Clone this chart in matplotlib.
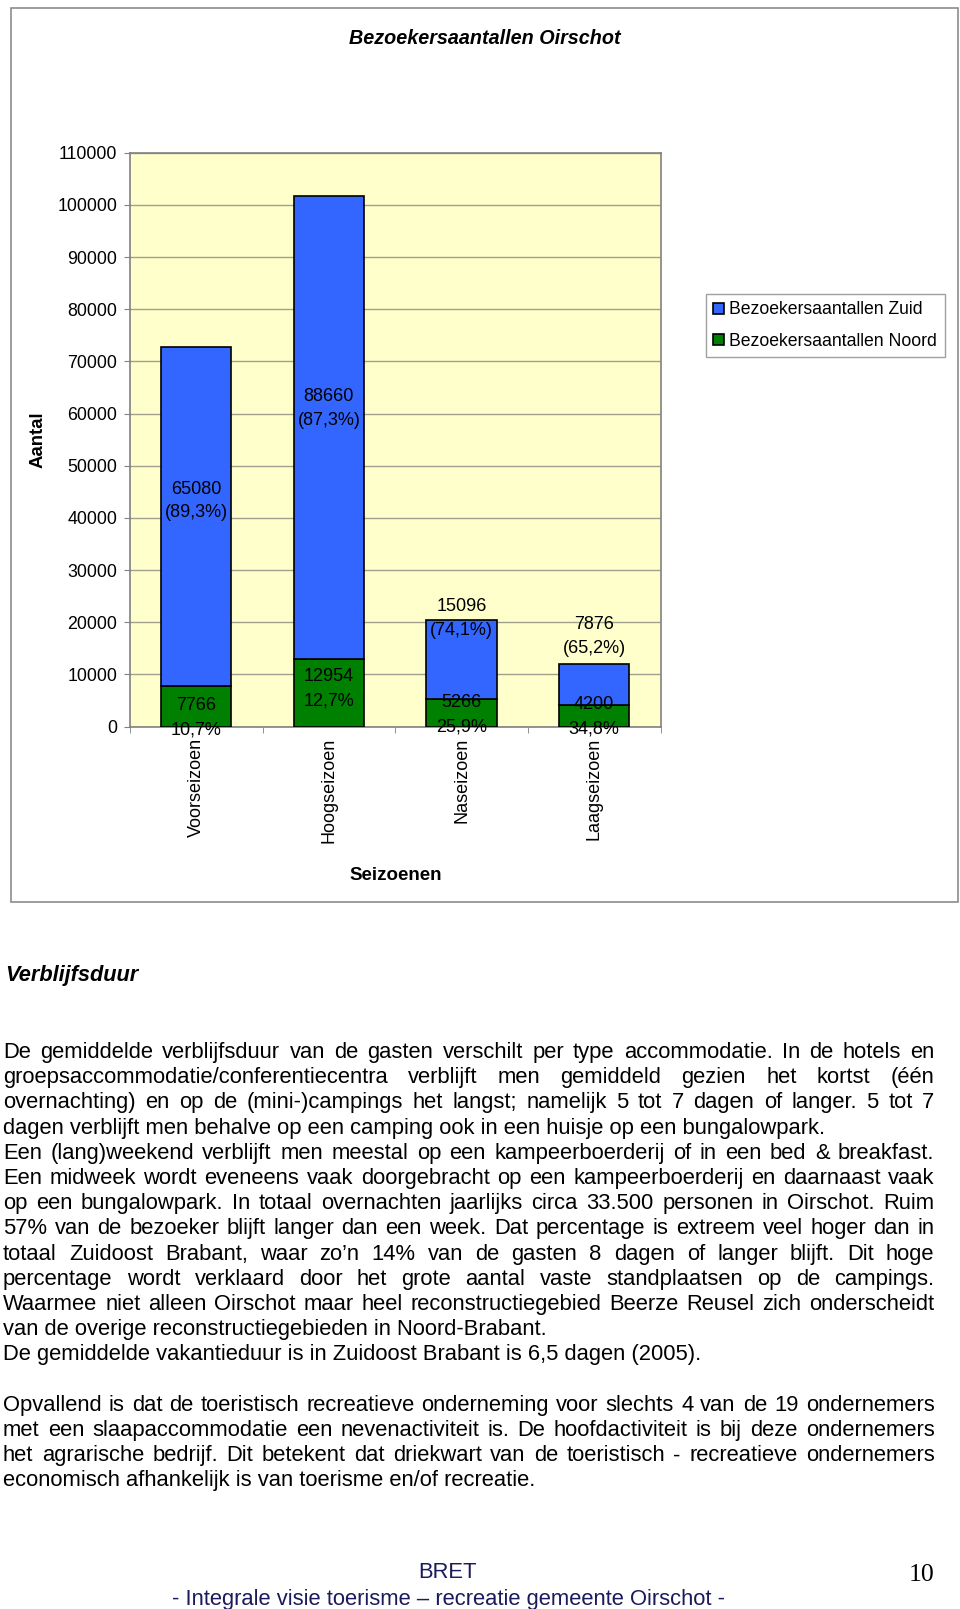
import numpy as np
import matplotlib
matplotlib.use("Agg")
import matplotlib.pyplot as plt
from matplotlib.patches import Rectangle

plt.rcParams['font.family'] = ['Liberation Sans', 'DejaVu Sans']

W, H = 960, 1609

# chart data
seasons = ["Voorseizoen", "Hoogseizoen", "Naseizoen", "Laagseizoen"]
zuid = [65080, 88660, 15096, 7876]
noord = [7766, 12954, 5266, 4200]
y_ticks = np.arange(0, 110001, 10000)
legend_labels = ["Bezoekersaantallen Zuid", "Bezoekersaantallen Noord"]

# label placement (chart units), labels were moved by hand in the original
zuid_lab_y = [43250, 61000, 20700, 17300]
noord_lab_y = [1700, 7300, 2200, 1900]

# page text, (line, justified)
body_lines = [
    ("De gemiddelde verblijfsduur van de gasten verschilt per type accommodatie. In de hotels en", True),
    ("groepsaccommodatie/conferentiecentra verblijft men gemiddeld gezien het kortst (één", True),
    ("overnachting) en op de (mini-)campings het langst; namelijk 5 tot 7 dagen of langer. 5 tot 7", True),
    ("dagen verblijft men behalve op een camping ook in een huisje op een bungalowpark.", False),
    ("Een (lang)weekend verblijft men meestal op een kampeerboerderij of in een bed & breakfast.", True),
    ("Een midweek wordt eveneens vaak doorgebracht op een kampeerboerderij en daarnaast vaak", True),
    ("op een bungalowpark. In totaal overnachten jaarlijks circa 33.500 personen in Oirschot. Ruim", True),
    ("57% van de bezoeker blijft langer dan een week. Dat percentage is extreem veel hoger dan in", True),
    ("totaal Zuidoost Brabant, waar zo’n 14% van de gasten 8 dagen of langer blijft. Dit hoge", True),
    ("percentage wordt verklaard door het grote aantal vaste standplaatsen op de campings.", True),
    ("Waarmee niet alleen Oirschot maar heel reconstructiegebied Beerze Reusel zich onderscheidt", True),
    ("van de overige reconstructiegebieden in Noord-Brabant.", False),
    ("De gemiddelde vakantieduur is in Zuidoost Brabant is 6,5 dagen (2005).", False),
    ("", False),
    ("Opvallend is dat de toeristisch recreatieve onderneming voor slechts 4 van de 19 ondernemers", True),
    ("met een slaapaccommodatie een nevenactiviteit is. De hoofdactiviteit is bij deze ondernemers", True),
    ("het agrarische bedrijf. Dit betekent dat driekwart van de toeristisch - recreatieve ondernemers", True),
    ("economisch afhankelijk is van toerisme en/of recreatie.", False),
]


def fx(px):
    return px / W


def fy(py):
    return 1 - py / H


fig = plt.figure(figsize=(W / 100, H / 100), dpi=100)
fig.patch.set_facecolor('white')

# chart frame
fig.patches.append(Rectangle((fx(11), fy(902)), fx(958) - fx(11), fy(8) - fy(902),
                             transform=fig.transFigure, fill=False, edgecolor='#8c8c8c', lw=1.2))

fig.text(fx(485), fy(39), "Bezoekersaantallen Oirschot", ha='center', va='center',
         fontsize=14.2, fontweight='bold', fontstyle='italic')

ax = fig.add_axes([fx(130), fy(726.5), (660.5 - 130) / W, (726.5 - 152.7) / H])
ax.set_facecolor('#FFFFCC')
x = np.arange(len(seasons))
bars_n = ax.bar(x, noord, width=0.53, color='#008000', edgecolor='black', lw=1.2, zorder=3)
bars_z = ax.bar(x, zuid, bottom=noord, width=0.53, color='#3366FF', edgecolor='black', lw=1.2, zorder=3)

ax.set_xlim(-0.5, 3.5)
ax.set_ylim(0, 110000)
ax.set_yticks(y_ticks)
ax.set_yticklabels([str(v) for v in y_ticks])
ax.yaxis.grid(True, color='#a0a08c', lw=1)
ax.set_axisbelow(True)
ax.tick_params(axis='y', length=4, pad=5.0, labelsize=12.8, color='#808080')
ax.set_xticks(x)
ax.set_xticklabels(seasons, rotation=90, fontsize=13)
ax.tick_params(axis='x', which='major', length=0, pad=8.3)
ax.set_xticks(np.arange(-0.5, 4), minor=True)
ax.tick_params(axis='x', which='minor', length=4, color='#808080')
for s in ax.spines.values():
    s.set_color('#808080')
    s.set_linewidth(1.2)

# data labels
for i in range(len(seasons)):
    pz = zuid[i] / (zuid[i] + noord[i]) * 100
    pn = noord[i] / (zuid[i] + noord[i]) * 100
    ax.text(x[i], zuid_lab_y[i], f"{zuid[i]}\n({pz:.1f}%)".replace('.', ','),
            ha='center', va='center', fontsize=13, linespacing=1.5, zorder=5)
    ax.text(x[i], noord_lab_y[i], f"{noord[i]}\n{pn:.1f}%".replace('.', ','),
            ha='center', va='center', fontsize=13, linespacing=1.6, zorder=5, clip_on=False)

fig.text(fx(38), fy(439.6), "Aantal", rotation=90, ha='center', va='center',
         fontsize=13.4, fontweight='bold')
fig.text(fx(396), fy(875), "Seizoenen", ha='center', va='center', fontsize=13.5, fontweight='bold')

leg = fig.legend(handles=[bars_z, bars_n], labels=legend_labels, loc='upper left',
                 bbox_to_anchor=(fx(705.6), fy(294)), borderaxespad=0, frameon=True,
                 fancybox=False, edgecolor='#a0a0a0', framealpha=1, fontsize=12.7,
                 handlelength=0.6, handleheight=0.6, handletextpad=0.32,
                 borderpad=0.42, labelspacing=0.8)
leg.get_frame().set_linewidth(1)

# text below the chart
fig.text(fx(5), fy(976), "Verblijfsduur", ha='left', va='center', fontsize=15.7,
         fontweight='bold', fontstyle='italic')

renderer = fig.canvas.get_renderer()
body_size = 15.8
left, right = 3, 934.4


def text_width(s):
    t = fig.text(0, 0, s, fontsize=body_size)
    w = t.get_window_extent(renderer).width
    t.remove()
    return w


y = 1051
for line, justify in body_lines:
    base = y + 7
    if line and justify:
        words = line.split(' ')
        widths = [text_width(w) for w in words]
        gap = (right - left - sum(widths)) / (len(words) - 1)
        xp = left
        for w, wd in zip(words, widths):
            fig.text(fx(xp), fy(base), w, fontsize=body_size, ha='left', va='baseline')
            xp += wd + gap
    elif line:
        fig.text(fx(left), fy(base), line, fontsize=body_size, ha='left', va='baseline')
    y += 25.2

# footer
fig.text(fx(448), fy(1573), "BRET", ha='center', va='center', fontsize=15.8, color='#1a1a5c')
fig.text(fx(448), fy(1599), "- Integrale visie toerisme – recreatie gemeente Oirschot -",
         ha='center', va='center', fontsize=15.8, color='#1a1a5c')
fig.text(fx(922), fy(1575), "10", ha='center', va='center', fontsize=18.5,
         family=['Liberation Serif', 'DejaVu Serif'])

fig.savefig("out.png", dpi=100)
